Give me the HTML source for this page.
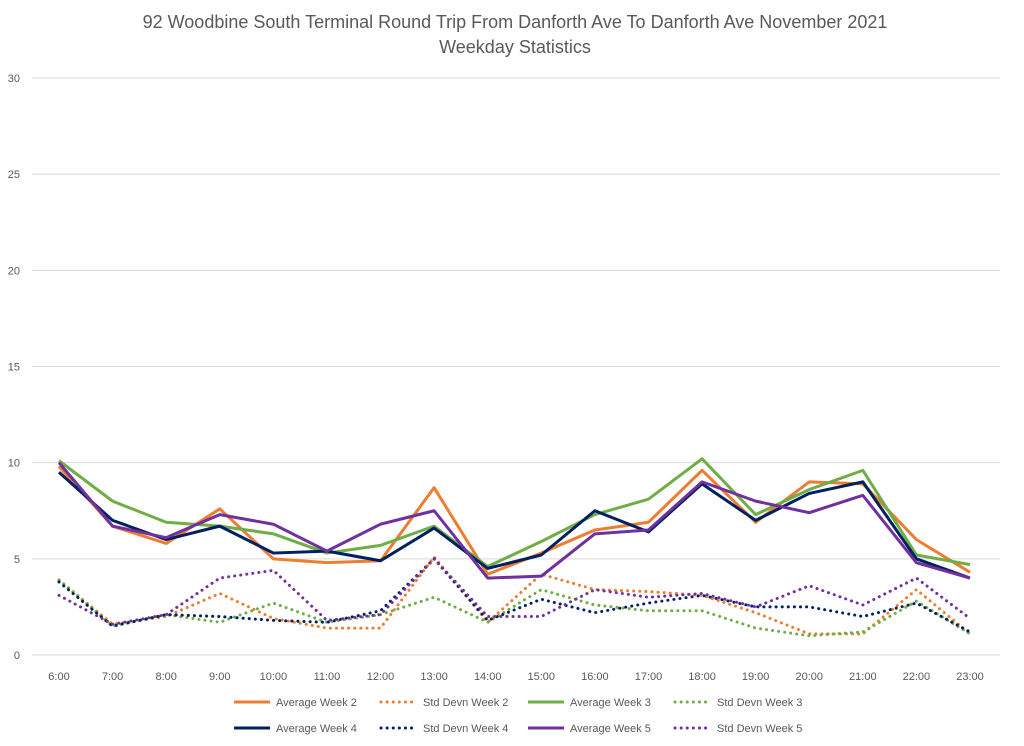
<!DOCTYPE html>
<html><head><meta charset="utf-8"><style>
body{margin:0;background:#fff;font-family:"Liberation Sans",sans-serif}
svg text{font-family:"Liberation Sans",sans-serif;fill:#595959}
</style></head><body>
<svg id="c" width="1024" height="741">
<text x="515" y="28" text-anchor="middle" font-size="18">92 Woodbine South Terminal Round Trip From Danforth Ave To Danforth Ave November 2021</text>
<text x="515" y="53" text-anchor="middle" font-size="18">Weekday Statistics</text>
</svg>
<script>
const categories=["6:00","7:00","8:00","9:00","10:00","11:00","12:00","13:00","14:00","15:00","16:00","17:00","18:00","19:00","20:00","21:00","22:00","23:00"];
const yTicks=[0,5,10,15,20,25,30];
const avgW2=[9.8,6.7,5.8,7.6,5.0,4.8,4.9,8.7,4.2,5.3,6.5,6.9,9.6,6.9,9.0,8.9,6.0,4.3];
const sdW2=[3.9,1.6,2.0,3.2,1.9,1.4,1.4,5.1,1.7,4.2,3.4,3.3,3.1,2.2,1.1,1.1,3.4,1.1];
const avgW3=[10.1,8.0,6.9,6.7,6.3,5.3,5.7,6.7,4.6,5.9,7.3,8.1,10.2,7.3,8.6,9.6,5.2,4.7];
const sdW3=[3.9,1.5,2.1,1.7,2.7,1.7,2.1,3.0,1.7,3.4,2.6,2.3,2.3,1.4,1.0,1.2,2.8,1.1];
const avgW4=[9.5,7.0,6.0,6.7,5.3,5.4,4.9,6.6,4.5,5.2,7.5,6.4,8.9,7.0,8.4,9.0,5.0,4.0];
const sdW4=[3.8,1.5,2.1,2.0,1.8,1.7,2.3,5.0,1.8,2.9,2.2,2.7,3.1,2.5,2.5,2.0,2.7,1.2];
const avgW5=[10.0,6.7,6.1,7.3,6.8,5.4,6.8,7.5,4.0,4.1,6.3,6.5,9.0,8.0,7.4,8.3,4.8,4.0];
const sdW5=[3.1,1.6,2.1,4.0,4.4,1.8,2.1,5.0,2.0,2.0,3.4,3.0,3.2,2.5,3.6,2.6,4.0,1.9];
const NS="http://www.w3.org/2000/svg",svg=document.getElementById('c');
const x=i=>59+i*(970-59)/(categories.length-1);
const y=v=>655-v*(655-78)/30;
function mk(t,a){const e=document.createElementNS(NS,t);for(const k in a)e.setAttribute(k,a[k]);svg.appendChild(e);return e;}
yTicks.forEach(t=>{
 const g=mk('line',{x1:32,x2:1000,y1:y(t),y2:y(t),stroke:'#d9d9d9','stroke-width':1});
 
 
 const l=mk('text',{x:20,y:y(t)+4,'text-anchor':'end','font-size':11});l.textContent=t;
 
 
});
categories.forEach((c,i)=>{
 const l=mk('text',{x:x(i),y:680,'text-anchor':'middle','font-size':11});l.textContent=c;
 
 
});
const series=[
 {n:"Std Devn Week 2",d:sdW2,c:"#ed7d31",dot:1},
 {n:"Std Devn Week 3",d:sdW3,c:"#70ad47",dot:1},
 {n:"Std Devn Week 4",d:sdW4,c:"#002060",dot:1},
 {n:"Std Devn Week 5",d:sdW5,c:"#7030a0",dot:1},
 {n:"Average Week 2",d:avgW2,c:"#ed7d31"},
 {n:"Average Week 3",d:avgW3,c:"#70ad47"},
 {n:"Average Week 4",d:avgW4,c:"#002060"},
 {n:"Average Week 5",d:avgW5,c:"#7030a0"}];
series.forEach(s=>{
 const p=mk('polyline',{points:s.d.map((v,i)=>x(i)+','+y(v)).join(' '),fill:'none',stroke:s.c,'stroke-width':3,'stroke-linejoin':'round','stroke-linecap':s.dot?'round':'butt','stroke-dasharray':s.dot?'0.1 6':'none'});
 
 
});
const legendOrder=[4,0,5,1,6,2,7,3];
legendOrder.forEach((si,k)=>{
 const s=series[si],col=k%4,row=Math.floor(k/4);
 const lx=234+col*147,ly=702+row*26;
 const ln=mk('line',{x1:lx,x2:lx+36,y1:ly,y2:ly,stroke:s.c,'stroke-width':3,'stroke-linecap':s.dot?'round':'butt','stroke-dasharray':s.dot?'0.1 6':'none'});
 
 
 const t=mk('text',{x:lx+42,y:ly+4,'font-size':11});t.textContent=s.n;
 
 
});
</script>
</body></html>
